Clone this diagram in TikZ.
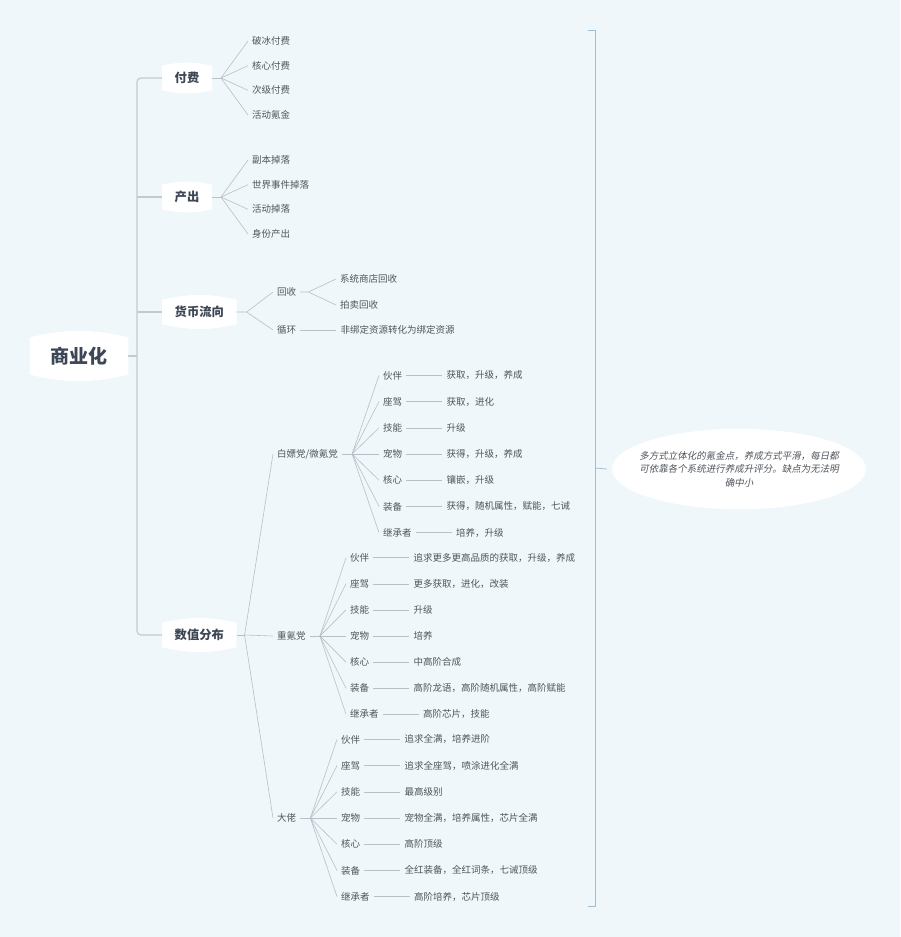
\documentclass[tikz,border=0pt]{standalone}
\usepackage{fontspec}
\setmainfont{Noto Sans CJK SC}
\newfontfamily\noteit[FakeSlant=0.2]{Noto Sans CJK SC}
\usetikzlibrary{positioning,backgrounds,shapes.geometric}
\definecolor{bgblue}{RGB}{239,247,251}
\definecolor{linegray}{RGB}{184,191,199}
\definecolor{trunkgray}{RGB}{195,202,210}
\definecolor{leaftext}{RGB}{80,85,92}
\definecolor{topictext}{RGB}{61,70,84}
\definecolor{bracketblue}{RGB}{160,190,212}

\begin{document}
\begin{tikzpicture}[x=1pt,y=-1pt]
\tikzstyle{every node}+=[inner sep=0pt]
\tikzstyle{leaf}=[anchor=west,inner xsep=4pt,inner ysep=2pt,text=leaftext,font=\fontsize{9.5}{11}\selectfont]
\tikzstyle{topic}=[anchor=west,inner xsep=12.5pt,minimum height=24pt,text=topictext,font=\fontsize{12.3}{14}\selectfont\bfseries]
\tikzstyle{rootbox}=[anchor=west,inner xsep=20.5pt,minimum height=37pt,text=topictext,font=\fontsize{19}{22}\selectfont\bfseries]
\tikzstyle{fan}=[draw=linegray,line width=0.6pt]
\tikzstyle{trunk}=[draw=trunkgray,line width=1.2pt]
\useasboundingbox (0,0) rectangle (900,937);
% root and topics
\node[rootbox] (root) at (30,356) {商业化};
\node[topic] (fufei) at (162,78) {付费};
\node[topic] (chanchu) at (162,197) {产出};
\node[topic] (huobi) at (162,312) {货币流向};
\node[topic] (shuzhi) at (162,635) {数值分布};
\coordinate (tk) at (137,356);
\draw[trunk] (root.east) -- (tk);
\draw[trunk,rounded corners=4pt] (fufei.west) -| (tk) |- (shuzhi.west);
\draw[trunk] (chanchu.west) -- (chanchu.west -| tk);
\draw[trunk] (huobi.west) -- (huobi.west -| tk);
% fufei
\coordinate (ff) at ([xshift=9pt]fufei.east);
\draw[fan] (fufei.east) -- (ff);
\foreach \t [count=\i] in {破冰付费,核心付费,次级付费,活动氪金}{
  \node[leaf] (ff\i) at (248,{16.33+24.67*\i}) {\t};
  \draw[fan] (ff) -- (ff\i.west);
}
% chanchu
\coordinate (cc) at ([xshift=9pt]chanchu.east);
\draw[fan] (chanchu.east) -- (cc);
\foreach \t [count=\i] in {副本掉落,世界事件掉落,活动掉落,身份产出}{
  \node[leaf] (cc\i) at (248,{135.33+24.67*\i}) {\t};
  \draw[fan] (cc) -- (cc\i.west);
}
% huobi
\coordinate (hb) at ([xshift=10pt]huobi.east);
\node[leaf] (huishou) at (273,292) {回收};
\node[leaf] (xunhuan) at (273,330) {循环};
\draw[fan] (huobi.east) -- (hb) (hb) -- (huishou.west) (hb) -- (xunhuan.west);
\coordinate (hs) at ([xshift=8pt]huishou.east);
\node[leaf] (hs1) at (336,279) {系统商店回收};
\node[leaf] (hs2) at (336,305) {拍卖回收};
\draw[fan] (huishou.east) -- (hs) (hs) -- (hs1.west) (hs) -- (hs2.west);
\node[leaf,right=36pt of xunhuan] (xh1) {非绑定资源转化为绑定资源};
\draw[fan] (xunhuan) -- (xh1);
% shuzhi
\coordinate (sz) at ([xshift=8pt]shuzhi.east);
\node[leaf] (baipiao) at (273,454) {白嫖党/微氪党};
\node[leaf] (zhongke) at (273,636) {重氪党};
\node[leaf] (dalao) at (273,818) {大佬};
\draw[fan] (shuzhi.east) -- (sz);
\foreach \g in {baipiao,zhongke,dalao} \draw[fan] (sz) -- (\g.west);
% baipiao
\coordinate (bp) at ([xshift=10pt]baipiao.east);
\draw[fan] (baipiao.east) -- (bp);
\foreach \c/\d [count=\i] in {伙伴/获取，升级，养成,座驾/获取，进化,技能/升级,宠物/获得，升级，养成,
  核心/镶嵌，升级,装备/获得，随机属性，赋能，七诫,继承者/培养，升级}{
  \node[leaf] (bp\i) at (379,{454+26.2*(\i-4)}) {\c};
  \node[leaf,right=36pt of bp\i] (bpd\i) {\d};
  \draw[fan] (bp) -- (bp\i.west);
  \draw[fan] (bp\i) -- (bpd\i);
}
% zhongke
\coordinate (zk) at ([xshift=10pt]zhongke.east);
\draw[fan] (zhongke.east) -- (zk);
\foreach \c/\d [count=\i] in {伙伴/追求更多更高品质的获取，升级，养成,座驾/更多获取，进化，改装,技能/升级,宠物/培养,
  核心/中高阶合成,装备/高阶龙语，高阶随机属性，高阶赋能,继承者/高阶芯片，技能}{
  \node[leaf] (zk\i) at (346,{636+26.1*(\i-4)}) {\c};
  \node[leaf,right=36pt of zk\i] (zkd\i) {\d};
  \draw[fan] (zk) -- (zk\i.west);
  \draw[fan] (zk\i) -- (zkd\i);
}
% dalao
\coordinate (dl) at ([xshift=10pt]dalao.east);
\draw[fan] (dalao.east) -- (dl);
\foreach \c/\d [count=\i] in {伙伴/追求全满，培养进阶,座驾/追求全座驾，喷涂进化全满,技能/最高级别,宠物/宠物全满，培养属性，芯片全满,
  核心/高阶顶级,装备/全红装备，全红词条，七诫顶级,继承者/高阶培养，芯片顶级}{
  \node[leaf] (dl\i) at (337,{818+26.2*(\i-4)}) {\c};
  \node[leaf,right=36pt of dl\i] (dld\i) {\d};
  \draw[fan] (dl) -- (dl\i.west);
  \draw[fan] (dl\i) -- (dld\i);
}
% summary
\draw[bracketblue,line width=0.8pt] (588,30) -- (595,30) -- (595,906) -- (588,906);
\coordinate (brmid) at (595,468);
\node[ellipse,fill=white,inner xsep=-10pt,inner ysep=10.5pt,align=center,text=leaftext,
  font=\noteit\fontsize{9.5}{13.5}\selectfont] (note) at (739,469)
  {多方式立体化的氪金点，养成方式平滑，每日都\\可依靠各个系统进行养成升评分。缺点为无法明\\确中小};
\draw[bracketblue,line width=0.8pt] (brmid) -- ([xshift=-5pt]note.west);
\begin{scope}[on background layer]
\fill[bgblue] (0,0) rectangle (900,937);
\foreach \n in {root,fufei,chanchu,huobi,shuzhi}
  \fill[white] (\n.south west) -- (\n.north west) to[bend left=13] (\n.north east)
    -- (\n.south east) to[bend left=13] (\n.south west);
\end{scope}
\end{tikzpicture}
\end{document}
